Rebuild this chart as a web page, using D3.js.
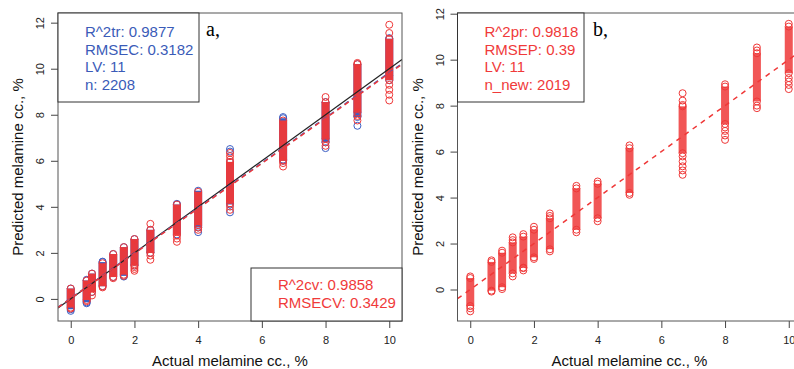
<!DOCTYPE html>
<html>
<head>
<meta charset="utf-8">
<script src="https://cdn.jsdelivr.net/npm/d3@7"></script>
<style>
  body { margin: 0; background: #fff; }
  svg { display: block; }
  text { font-family: "Liberation Sans", Arial, sans-serif; }
</style>
</head>
<body>
<svg id="chart" width="794" height="369"></svg>
<script>
// reference levels (actual melamine, %)
const levelsA = [0, 0.5, 0.667, 1, 1.333, 1.667, 2, 2.5, 3.333, 4, 5, 6.667, 8, 9, 10];
const levelsB = [0, 0.667, 1, 1.333, 1.667, 2, 2.5, 3.333, 4, 5, 6.667, 8, 9, 10];

// panel a, calibration (blue): dense range + single visible points
const calLoA = [-0.45, -0.15, 0.3, 0.55, 0.95, 1.0, 1.45, 2.0, 2.8, 3.1, 4.1, 6.0, 6.8, 7.9, 9.5];
const calHiA = [0.45, 0.8, 1.1, 1.6, 1.95, 2.25, 2.6, 3.0, 4.1, 4.7, 5.95, 7.85, 8.55, 10.2, 11.3];
const calExtraA = [[-0.52], [-0.19, 0.83], [], [1.62], [], [0.97], [], [], [4.13], [2.9],
  [6.51, 6.4, 3.76], [7.9, 6.05], [6.55], [7.52], [11.33, 9.7]];

// panel a, cross-validation (red)
const cvLoA = [-0.38, -0.05, 0.3, 0.55, 0.95, 1.05, 1.45, 2.0, 2.75, 3.2, 4.15, 6.0, 6.95, 8.1, 9.5];
const cvHiA = [0.45, 0.8, 1.1, 1.55, 1.95, 2.25, 2.6, 3.0, 4.1, 4.65, 5.95, 7.75, 8.55, 10.2, 11.3];
const cvExtraA = [[-0.42], [-0.1], [0.15], [0.5], [0.9], [1.0], [1.38, 1.3, 1.22],
  [3.26, 1.88, 1.7], [2.62, 2.48], [3.1, 3.0], [6.34, 6.2, 6.05, 4.01, 3.87],
  [5.9, 5.75], [8.77, 6.8, 6.65], [10.25, 7.95, 7.75], [11.91, 11.55, 9.3, 9.08, 8.87, 8.62]];

// panel b, prediction (red)
const predLoB = [-0.72, -0.05, 0.1, 0.7, 0.95, 1.4, 1.75, 2.6, 3.1, 4.2, 5.93, 7.2, 8.18, 9.41];
const predHiB = [0.5, 1.2, 1.6, 2.05, 2.3, 2.6, 3.1, 4.4, 4.6, 6.15, 7.97, 8.83, 10.28, 11.44];
const predExtraB = [[0.57, -0.82, -0.95], [1.27, -0.09], [1.69, 0.02], [2.27, 2.15, 0.57],
  [2.41, 0.93, 0.83], [2.73, 1.33], [3.31, 3.2, 1.66], [4.51, 2.49], [4.7, 2.97],
  [6.27, 4.12], [8.54, 8.22, 8.03, 5.79, 5.57, 5.36, 5.18, 4.99],
  [8.93, 7.05, 6.9, 6.7, 6.51], [10.53, 10.4, 8.0, 7.89],
  [11.56, 9.2, 9.05, 8.9, 8.72]];

// fitted lines [slope, intercept]
const fitCalA = [0.98, 0.03];
const fitCvA = [0.978, 0.02];

const xTicks = [0, 2, 4, 6, 8, 10];
const yTicks = [0, 2, 4, 6, 8, 10, 12];

const legendA = ['R^2tr: 0.9877', 'RMSEC: 0.3182', 'LV: 11', 'n: 2208'];
const legendCv = ['R^2cv: 0.9858', 'RMSECV: 0.3429'];
const legendB = ['R^2pr: 0.9818', 'RMSEP: 0.39', 'LV: 11', 'n_new: 2019'];

const RED = '#ef3838';
const BLUE = '#3d5fc4';
const R = 3.5;

const svg = d3.select('#chart');

const makePanel = (id, left, right, yDomain) => {
  const x = d3.scaleLinear().domain([-0.4, 10.4]).range([left, right]);
  const y = d3.scaleLinear().domain(yDomain).range([321, 13]);
  svg.append('clipPath').attr('id', id)
    .append('rect')
    .attr('x', left).attr('y', 13)
    .attr('width', right - left).attr('height', 308);
  const g = svg.append('g');
  const plot = g.append('g').attr('clip-path', `url(#${id})`);
  return { x, y, g, plot, left, right };
};

const drawSeries = (p, levels, lo, hi, extra, color, opacity) => {
  const grp = p.plot.append('g');
  grp.selectAll('rect')
    .data(levels)
    .enter()
    .append('rect')
    .attr('x', d => p.x(d) - R - 0.5)
    .attr('width', 2 * R + 1)
    .attr('y', (d, i) => p.y(hi[i]))
    .attr('height', (d, i) => p.y(lo[i]) - p.y(hi[i]))
    .style('fill', color)
    .style('fill-opacity', opacity);
  const pts = [];
  levels.forEach((lv, i) => {
    pts.push({ lv, v: lo[i] }, { lv, v: hi[i] });
    extra[i].forEach(v => pts.push({ lv, v }));
  });
  grp.selectAll('circle')
    .data(pts)
    .enter()
    .append('circle')
    .attr('cx', d => p.x(d.lv))
    .attr('cy', d => p.y(d.v))
    .attr('r', R)
    .style('fill', 'none')
    .style('stroke', color)
    .style('stroke-width', 1);
};

const drawLine = (p, fit, color, dash, width) => {
  const [x0, x1] = p.x.domain();
  p.plot.append('line')
    .attr('x1', p.x(x0)).attr('y1', p.y(fit[0] * x0 + fit[1]))
    .attr('x2', p.x(x1)).attr('y2', p.y(fit[0] * x1 + fit[1]))
    .style('stroke', color)
    .style('stroke-width', width)
    .style('stroke-dasharray', dash);
};

const drawAxes = (p, title) => {
  const xa = p.g.append('g')
    .attr('transform', 'translate(0,321)')
    .call(d3.axisBottom(p.x).tickValues(xTicks).tickSize(7).tickFormat(d3.format('d')));
  const ya = p.g.append('g')
    .attr('transform', `translate(${p.left},0)`)
    .call(d3.axisLeft(p.y).tickValues(yTicks).tickSize(7).tickFormat(d3.format('d')));
  [xa, ya].forEach(a => {
    a.select('.domain').remove();
    a.selectAll('line').style('stroke', '#444');
    a.selectAll('text').style('font-size', '11px').style('fill', '#222')
      .style('font-family', '"Liberation Sans", Arial, sans-serif');
  });
  xa.selectAll('text').attr('y', 15);
  ya.selectAll('text')
    .attr('transform', 'rotate(-90)')
    .attr('x', 0).attr('y', -14).attr('dy', 0)
    .style('text-anchor', 'middle');

  p.g.append('rect')
    .attr('x', p.left).attr('y', 13)
    .attr('width', p.right - p.left).attr('height', 308)
    .style('fill', 'none').style('stroke', '#555').style('stroke-width', 1);

  p.g.append('text')
    .attr('x', (p.left + p.right) / 2).attr('y', 366)
    .style('text-anchor', 'middle').style('font-size', '15px').style('fill', '#111')
    .text('Actual melamine cc., %');
  p.g.append('text')
    .attr('transform', `translate(${p.left - 35},167) rotate(-90)`)
    .style('text-anchor', 'middle').style('font-size', '15px').style('fill', '#111')
    .text('Predicted melamine cc., %');
  p.g.append('text')
    .attr('x', title.x).attr('y', 36)
    .style('font-family', '"Liberation Serif", "Times New Roman", serif')
    .style('font-size', '20px').style('fill', '#000')
    .text(title.text);
};

const drawLegend = (p, box, lines, color, baseline) => {
  p.g.append('rect')
    .attr('x', box[0]).attr('y', box[1])
    .attr('width', box[2] - box[0]).attr('height', box[3] - box[1])
    .style('fill', '#fff').style('stroke', '#333').style('stroke-width', 1);
  p.g.selectAll(null)
    .data(lines)
    .enter()
    .append('text')
    .attr('x', box[0] + 27)
    .attr('y', (d, i) => baseline + i * 17.8)
    .style('font-size', '15px')
    .style('fill', color)
    .text(d => d);
};

// panel a
const pa = makePanel('clipA', 58, 402, [-0.96, 12.42]);
drawSeries(pa, levelsA, calLoA, calHiA, calExtraA, BLUE, 1);
drawSeries(pa, levelsA, cvLoA, cvHiA, cvExtraA, RED, 0.95);
drawLine(pa, [1, 0], '#222', null, 1.2);
drawLine(pa, fitCalA, BLUE, '5,4', 1.5);
drawLine(pa, fitCvA, RED, '5,4', 1.5);
drawAxes(pa, { x: 206, text: 'a,' });
drawLegend(pa, [58, 13, 199, 102], legendA, '#3a5bb8', 36.7);
drawLegend(pa, [251, 268, 402, 321], legendCv, '#f03a3a', 290);

// panel b
const pb = makePanel('clipB', 457.5, 801.5, [-1.37, 12.03]);
drawSeries(pb, levelsB, predLoB, predHiB, predExtraB, RED, 0.85);
drawLine(pb, [1, 0], RED, '5,5', 1.5);
drawAxes(pb, { x: 593, text: 'b,' });
drawLegend(pb, [457.5, 13, 584, 102], legendB, '#f03a3a', 36.7);
</script>
</body>
</html>
